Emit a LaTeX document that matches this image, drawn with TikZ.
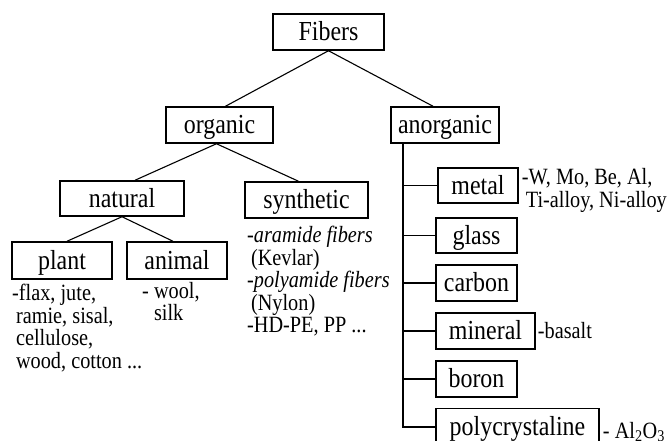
\documentclass[tikz,border=0pt]{standalone}
\usepackage{fontspec}
\setmainfont[FakeStretch=0.87]{Liberation Serif}
\begin{document}
\begin{tikzpicture}[x=1pt,y=-1pt,
  box/.style={draw, line width=1.5pt, minimum height=36pt, inner sep=0pt,
    text height=17pt, text depth=0pt, font=\fontsize{27.5}{29}\selectfont},
  note/.style={anchor=north west, inner sep=0pt, align=left,
    font=\fontsize{23.3}{22.5}\selectfont},
  link/.style={line width=1.1pt}]
\useasboundingbox (0,0) rectangle (672,441);
% boxes
\node[box, minimum width=111pt] (fib) at (328.5,32) {Fibers};
\node[box, minimum width=107pt] (org) at (219.5,125) {organic};
\node[box, minimum width=108pt] (ano) at (445,125) {anorganic};
\node[box, minimum width=124pt, minimum height=35pt] (nat) at (122,198.5) {natural};
\node[box, minimum width=123pt] (syn) at (306.5,200) {synthetic};
\node[box, minimum width=100pt, minimum height=37pt] (pla) at (62,260.5) {plant};
\node[box, minimum width=100pt, minimum height=37pt] (ani) at (177,260.5) {animal};
\node[box, minimum width=80pt, minimum height=35pt] (met) at (478,185.5) {metal};
\node[box, minimum width=81pt, minimum height=35pt] (gla) at (476.5,235.5) {glass};
\node[box, minimum width=81pt] (car) at (476.5,283) {carbon};
\node[box, minimum width=99pt] (min) at (485.5,331) {mineral};
\node[box, minimum width=81pt] (bor) at (476.5,379) {boron};
\node[box, minimum width=163pt, minimum height=37pt] (pol) at (517.5,427) {polycrystaline};
% notes
\node[note] (plt) at (12,284) {-flax, jute,\\\,ramie, sisal,\\\,cellulose,\\\,wood, cotton ...};
\node[note] (ant) at (142,282) {- wool,\\\phantom{- }silk};
\node[note] (snt) at (247,226) {\textit{-aramide fibers}\\\,(Kevlar)\\\textit{-polyamide fibers}\\\,(Nylon)\\-HD-PE, PP ...};
\node[note] (mtt) at ([xshift=3pt,yshift=-1pt]met.north east) {-W, Mo, Be, Al,\\\,Ti-alloy, Ni-alloy};
\node[note, anchor=west] (mnt) at ([xshift=2pt]min.east) {-basalt};
\node[note, anchor=west] (plt2) at ([xshift=3pt,yshift=-5pt]pol.east) {- Al\textsubscript{2}O\textsubscript{3}};
% connectors
\draw[link] (fib.south) -- ([xshift=6pt]org.north);
\draw[link] (fib.south) -- ([xshift=-12pt]ano.north);
\draw[link] ([xshift=-3pt]org.south) -- ([xshift=13pt]nat.north);
\draw[link] ([xshift=-3pt]org.south) -- ([xshift=-8pt]syn.north);
\draw[link] (nat.south) -- ([xshift=5pt]pla.north);
\draw[link] (nat.south) -- ([xshift=-4pt]ani.north);
\coordinate (trunk) at ([xshift=-42pt]ano.south);
\draw[link] (trunk) |- (pol.west);
\draw[link] (trunk |- met.west) -- (met.west);
\draw[link] (trunk |- gla.west) -- (gla.west);
\draw[link] (trunk |- car.west) -- (car.west);
\draw[link] (trunk |- min.west) -- (min.west);
\draw[link] (trunk |- bor.west) -- (bor.west);
\end{tikzpicture}
\end{document}
